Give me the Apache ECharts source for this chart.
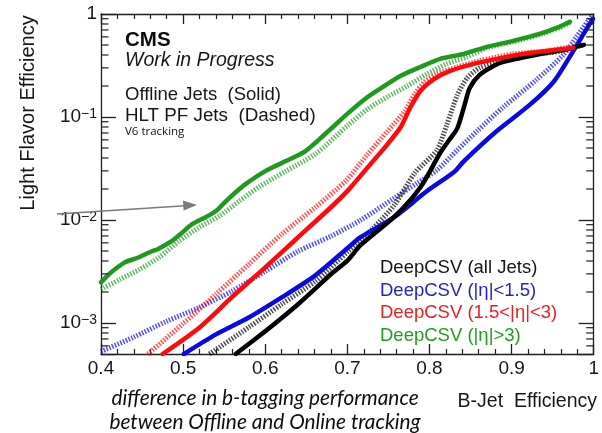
<!DOCTYPE html>
<html>
<head>
<meta charset="utf-8">
<script src="https://cdn.jsdelivr.net/npm/echarts@6.0.0/dist/echarts.min.js"></script>
<style>
html,body{margin:0;padding:0;background:#ffffff;}
#chart{width:602px;height:433px;}
</style>
</head>
<body>
<div id="chart"></div>
<script>
// ---------------- data ----------------
const xTickValues = [0.4, 0.5, 0.6, 0.7, 0.8, 0.9, 1.0];
const yMajorTicks = [1e-3, 1e-2, 1e-1, 1];
const yMinorTicks = [6e-4, 7e-4, 8e-4, 9e-4,
  2e-3, 3e-3, 4e-3, 5e-3, 6e-3, 7e-3, 8e-3, 9e-3,
  2e-2, 3e-2, 4e-2, 5e-2, 6e-2, 7e-2, 8e-2, 9e-2,
  0.2, 0.3, 0.4, 0.5, 0.6, 0.7, 0.8, 0.9];

const legendNames = ['DeepCSV (all Jets)', 'DeepCSV (|\u03b7|<1.5)', 'DeepCSV (1.5<|\u03b7|<3)', 'DeepCSV (|\u03b7|>3)'];

// Offline (solid) curves
const offAllX = [0.564,0.600,0.640,0.680,0.701,0.716,0.757,0.789,0.813,0.824,0.834,0.842,0.849,0.861,0.878,0.890,0.930,0.963,0.988];
const offAllY = [5e-4,8.3e-4,1.52e-3,2.97e-3,4.1e-3,5.69e-3,1.07e-2,2.08e-2,4.47e-2,5.97e-2,7.8e-2,0.125,0.191,0.256,0.313,0.343,0.401,0.449,0.502];

const offCenX = [0.501,0.540,0.580,0.620,0.661,0.701,0.716,0.757,0.797,0.830,0.842,0.882,0.922,0.951,0.970,0.987,0.999];
const offCenY = [5e-4,7.75e-4,1.13e-3,1.77e-3,2.9e-3,5.4e-3,6.8e-3,1.065e-2,1.91e-2,2.92e-2,3.73e-2,7.31e-2,0.131,0.219,0.375,0.628,0.898];

const offMidX = [0.475,0.520,0.559,0.600,0.640,0.680,0.701,0.725,0.749,0.765,0.777,0.789,0.806,0.825,0.854,0.882,0.914,0.942,0.975];
const offMidY = [5e-4,9.06e-4,1.77e-3,3.47e-3,6.8e-3,1.33e-2,1.95e-2,3.26e-2,5.46e-2,7.99e-2,0.125,0.179,0.234,0.280,0.328,0.367,0.410,0.438,0.469];

const offFwdX = [0.400,0.411,0.429,0.443,0.462,0.469,0.486,0.498,0.511,0.528,0.540,0.552,0.564,0.576,0.600,0.625,0.649,0.673,0.701,0.725,0.745,0.765,0.789,0.813,0.842,0.870,0.902,0.934,0.958,0.971];
const offFwdY = [2.48e-3,3.04e-3,3.88e-3,4.25e-3,4.97e-3,5.2e-3,6.22e-3,7.44e-3,9.1e-3,1.07e-2,1.22e-2,1.52e-2,1.86e-2,2.23e-2,2.98e-2,3.73e-2,4.67e-2,6.84e-2,0.109,0.157,0.200,0.251,0.306,0.367,0.410,0.480,0.549,0.641,0.750,0.839];

// HLT (dashed) curves
const hltAllX = [0.532,0.580,0.620,0.661,0.701,0.731,0.757,0.782,0.809,0.821,0.834,0.846,0.861,0.890,0.918,0.958,0.988];
const hltAllY = [5e-4,9.1e-4,1.52e-3,2.54e-3,4.97e-3,8.3e-3,1.39e-2,2.85e-2,4.78e-2,8.36e-2,0.164,0.240,0.300,0.358,0.392,0.435,0.502];

const hltCenX = [0.400,0.439,0.480,0.520,0.559,0.600,0.640,0.680,0.716,0.757,0.785,0.809,0.834,0.858,0.890,0.930,0.963,0.979,0.994,0.999];
const hltCenY = [5.29e-4,7.24e-4,1.04e-3,1.42e-3,2.03e-3,3.18e-3,4.97e-3,6.96e-3,9.95e-3,1.63e-2,2.28e-2,3.05e-2,4.78e-2,7.31e-2,0.125,0.229,0.401,0.600,0.878,0.98];

const hltMidX = [0.457,0.499,0.540,0.580,0.620,0.661,0.698,0.725,0.749,0.770,0.782,0.794,0.809,0.834,0.861,0.902,0.942,0.970];
const hltMidY = [5e-4,9.69e-4,1.9e-3,3.72e-3,7.28e-3,1.33e-2,2.4e-2,4.37e-2,7.31e-2,0.114,0.167,0.219,0.262,0.306,0.351,0.410,0.438,0.480];

const hltFwdX = [0.400,0.423,0.447,0.471,0.495,0.520,0.544,0.568,0.592,0.625,0.661,0.701,0.725,0.749,0.773,0.797,0.821,0.846,0.870,0.902,0.934,0.958,0.971];
const hltFwdY = [2.12e-3,2.65e-3,3.32e-3,4.35e-3,6.22e-3,8.51e-3,1.09e-2,1.52e-2,2.08e-2,2.98e-2,4.37e-2,8.36e-2,0.120,0.157,0.200,0.262,0.328,0.384,0.469,0.537,0.628,0.734,0.821];

// ---------------- styling ----------------
const COL = { all: '#000000', cen: '#0a0ae0', mid: '#ff0a0a', fwd: '#1f9a1f' };
const LEG = { all: '#151515', cen: '#2323c8', mid: '#ea2020', fwd: '#239a23' };
const HELV = '"Liberation Sans", Arial, Helvetica, sans-serif';
const TXT = '#161616';
const AX = '#1e1e1e';

function pairs(xs, ys) { return xs.map((x, i) => [x, ys[i]]); }

function solid(name, xs, ys, color) {
  return { name, type: 'line', data: pairs(xs, ys), showSymbol: false, symbol: 'none',
    smooth: 0.25, z: 4, silent: true,
    lineStyle: { color, width: 4.5, cap: 'round', join: 'round' }, itemStyle: { color } };
}
function dashed(name, xs, ys, color) {
  return { name, type: 'line', data: pairs(xs, ys), showSymbol: false, symbol: 'none',
    smooth: 0.25, z: 3, silent: true,
    lineStyle: { color, width: 5, type: [1.5, 1.5], opacity: 0.7 }, itemStyle: { color } };
}

function yLabel(v) {
  const l = Math.log10(v);
  const r = Math.round(l);
  if (Math.abs(l - r) > 1e-6) return '';
  if (r === 0) return '{n|1}';
  return '{n|10}{s|\u2212' + (-r) + '}';
}

const chart = echarts.init(document.getElementById('chart'), null, { renderer: 'canvas' });

const grid = { left: 101, right: 4, top: 14, bottom: 79, containLabel: false };

const xBase = {
  type: 'value', min: 0.4, max: 1.0, interval: 0.1,
  axisLine: { show: true, onZero: false, lineStyle: { color: AX, width: 1.3 } },
  axisTick: { show: true, inside: true, length: 10, lineStyle: { color: AX, width: 1.3 } },
  minorTick: { show: true, splitNumber: 5, length: 5, lineStyle: { color: AX, width: 1.2 } },
  splitLine: { show: false }, minorSplitLine: { show: false }
};

const yBase = {
  type: 'log', logBase: 10, min: 5e-4, max: 1,
  axisLine: { show: true, onZero: false, lineStyle: { color: AX, width: 1.3 } },
  axisTick: { show: true, inside: true, length: 15, lineStyle: { color: AX, width: 1.3 } },
  splitLine: { show: false }
};

const option = {
  backgroundColor: '#ffffff',
  animation: false,
  grid,
  xAxis: [
    Object.assign({}, xBase, { position: 'bottom',
      axisLabel: { show: true, margin: 5, fontSize: 19, color: TXT, fontFamily: HELV,
        formatter: v => (Math.abs(v - 1) < 1e-9 ? '1' : v.toFixed(1)) } }),
    Object.assign({}, xBase, { position: 'top', axisLabel: { show: false } })
  ],
  yAxis: [
    Object.assign({}, yBase, { position: 'left',
      axisLabel: { show: true, margin: 4, formatter: yLabel, color: TXT, fontFamily: HELV,
        rich: {
          n: { fontSize: 19, lineHeight: 20, color: TXT, fontFamily: HELV },
          s: { fontSize: 14, lineHeight: 14, color: TXT, fontFamily: HELV, verticalAlign: 'top' }
        } } }),
    Object.assign({}, yBase, { position: 'right', axisLabel: { show: false } })
  ],
  legend: {
    show: true, orient: 'vertical', left: 370, top: 253,
    icon: 'none', itemWidth: 0, itemHeight: 0, itemGap: 2.5, selectedMode: false,
    textStyle: { fontSize: 18.5, lineHeight: 20, fontFamily: HELV },
    data: [
      { name: legendNames[0], textStyle: { color: LEG.all } },
      { name: legendNames[1], textStyle: { color: LEG.cen } },
      { name: legendNames[2], textStyle: { color: LEG.mid } },
      { name: legendNames[3], textStyle: { color: LEG.fwd } }
    ]
  },
  series: [
    dashed('HLT ' + legendNames[1], hltCenX, hltCenY, COL.cen),
    dashed('HLT ' + legendNames[0], hltAllX, hltAllY, COL.all),
    dashed('HLT ' + legendNames[2], hltMidX, hltMidY, COL.mid),
    dashed('HLT ' + legendNames[3], hltFwdX, hltFwdY, COL.fwd),
    solid(legendNames[1], offCenX, offCenY, COL.cen),
    solid(legendNames[0], offAllX, offAllY, COL.all),
    solid(legendNames[2], offMidX, offMidY, COL.mid),
    solid(legendNames[3], offFwdX, offFwdY, COL.fwd),
    {
      name: 'minor y ticks', type: 'custom', silent: true, z: 5,
      data: yMinorTicks.map(v => [0.7, v]),
      renderItem: function (params, api) {
        const y = api.coord([api.value(0), api.value(1)])[1];
        const cs = params.coordSys;
        const st = { stroke: AX, lineWidth: 1.2 };
        return { type: 'group', children: [
          { type: 'line', shape: { x1: cs.x, y1: y, x2: cs.x + 7.5, y2: y }, style: st },
          { type: 'line', shape: { x1: cs.x + cs.width, y1: y, x2: cs.x + cs.width - 7.5, y2: y }, style: st }
        ] };
      }
    }
  ],
  graphic: [
    { type: 'text', x: 28, y: 113, rotation: Math.PI / 2,
      style: { text: 'Light Flavor Efficiency', fill: TXT, font: '20px ' + HELV, align: 'center', verticalAlign: 'middle' } },
    { type: 'text', x: 597, y: 402,
      style: { text: 'B-Jet  Efficiency', fill: TXT, font: '19.5px ' + HELV, align: 'right', verticalAlign: 'middle' } },
    { type: 'text', x: 125, y: 40,
      style: { text: 'CMS', fill: '#0a0a0a', font: 'bold 20.5px ' + HELV, align: 'left', verticalAlign: 'middle' } },
    { type: 'text', x: 125, y: 61,
      style: { text: 'Work in Progress', fill: TXT, font: 'italic 19.5px ' + HELV, align: 'left', verticalAlign: 'middle' } },
    { type: 'text', x: 125, y: 95,
      style: { text: 'Offline Jets  (Solid)', fill: TXT, font: '18.5px ' + HELV, align: 'left', verticalAlign: 'middle' } },
    { type: 'text', x: 125, y: 116,
      style: { text: 'HLT PF Jets  (Dashed)', fill: TXT, font: '18.8px ' + HELV, align: 'left', verticalAlign: 'middle' } },
    { type: 'text', x: 125, y: 132,
      style: { text: 'V6 tracking', fill: '#111111', font: '11.5px "Open Sans", sans-serif', align: 'left', verticalAlign: 'middle' } },
    { type: 'text', x: 265, y: 398,
      style: { text: 'difference in b-tagging performance', fill: '#0d0d0d', font: 'italic 20.8px Lato, "Open Sans", sans-serif', align: 'center', verticalAlign: 'middle' } },
    { type: 'text', x: 265, y: 422,
      style: { text: 'between Offline and Online tracking', fill: '#0d0d0d', font: 'italic 20.8px Lato, "Open Sans", sans-serif', align: 'center', verticalAlign: 'middle' } },
    { type: 'line', z: 10, shape: { x1: 57, y1: 214, x2: 185, y2: 205.8 },
      style: { stroke: '#7a7a7a', lineWidth: 1.6 } },
    { type: 'polygon', z: 10, shape: { points: [[197, 205], [183, 200.6], [183.6, 210.4]] },
      style: { fill: '#7a7a7a' } }
  ]
};

chart.setOption(option);
</script>
</body>
</html>
